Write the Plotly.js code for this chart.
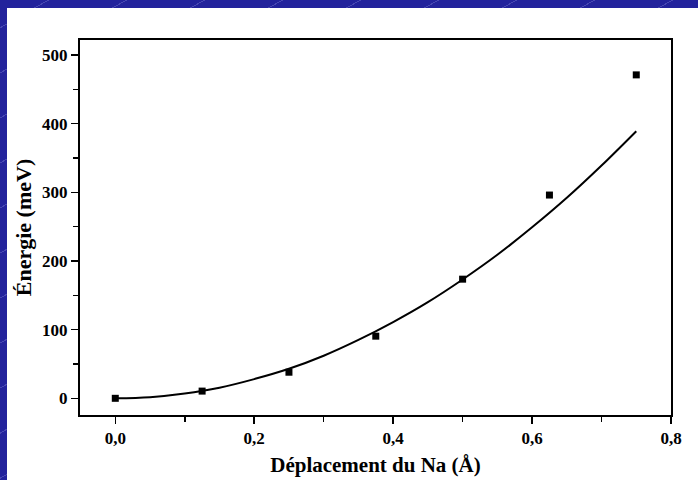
<!DOCTYPE html>
<html>
<head>
<meta charset="utf-8">
<script src="https://cdn.plot.ly/plotly-3.0.1.min.js"></script>
<style>
  html, body { margin: 0; padding: 0; width: 698px; height: 480px; overflow: hidden; }
  body {
    background-color: #23239c;
    background-image: repeating-linear-gradient(-30deg, transparent 0px, transparent 38px, rgba(140,140,220,0.35) 38px, rgba(140,140,220,0.35) 39px);
  }
  #chart { position: absolute; left: 7px; top: 8px; width: 691px; height: 472px; background: #fff; }
</style>
</head>
<body>
<div id="chart"></div>
<script>
// Measured data points
const displacement = [0, 0.125, 0.25, 0.375, 0.5, 0.625, 0.75];
const energy = [0, 10.5, 38, 90.5, 173.5, 296, 471];

// Fitted curve
const fitX = [0, 0.05, 0.1, 0.15, 0.2, 0.25, 0.3, 0.35, 0.4, 0.45, 0.5, 0.55, 0.6, 0.65, 0.7, 0.75];
const fitY = [0, 1.7, 7, 15.5, 28, 43, 62, 85, 111, 140, 173, 209, 249, 292, 339, 389];

const xTickVals = [0, 0.2, 0.4, 0.6, 0.8];
const xTickText = ['0,0', '0,2', '0,4', '0,6', '0,8'];
const yTickVals = [0, 100, 200, 300, 400, 500];

const fontFamily = '"Liberation Serif", "Times New Roman", serif';

const traces = [
  {
    x: fitX, y: fitY, type: 'scatter', mode: 'lines',
    line: { color: '#000', width: 2, shape: 'spline', smoothing: 1 },
    hoverinfo: 'skip'
  },
  {
    x: displacement, y: energy, type: 'scatter', mode: 'markers',
    marker: { symbol: 'square', size: 7, color: '#000' }
  }
];

const layout = {
  width: 691, height: 472,
  margin: { l: 73, r: 27, t: 32, b: 65 },
  paper_bgcolor: '#fff', plot_bgcolor: '#fff',
  showlegend: false,
  font: { family: fontFamily, color: '#000' },
  xaxis: {
    range: [-0.0508, 0.8], showgrid: false, zeroline: false,
    showline: true, linecolor: '#000', linewidth: 2, mirror: true,
    ticks: 'outside', ticklen: 7, tickwidth: 1.5, tickcolor: '#000',
    tickvals: xTickVals, ticktext: xTickText,
    minor: { tickvals: [0.1, 0.3, 0.5, 0.7], ticks: 'outside', ticklen: 5, tickwidth: 1.5, tickcolor: '#000', showgrid: false },
    tickfont: { size: 17, family: fontFamily, weight: 'bold' },
    title: { text: 'Déplacement du Na (Å)', font: { size: 21, family: fontFamily, weight: 'bold' }, standoff: 10 }
  },
  yaxis: {
    range: [-24.3, 521.8], showgrid: false, zeroline: false,
    showline: true, linecolor: '#000', linewidth: 2, mirror: true,
    ticks: 'outside', ticklen: 7, tickwidth: 1.5, tickcolor: '#000',
    tickvals: yTickVals,
    minor: { tickvals: [50, 150, 250, 350, 450], ticks: 'outside', ticklen: 5, tickwidth: 1.5, tickcolor: '#000', showgrid: false },
    tickfont: { size: 17, family: fontFamily, weight: 'bold' },
    title: { text: 'Énergie (meV)', font: { size: 22, family: fontFamily, weight: 'bold' }, standoff: 4 }
  }
};

Plotly.newPlot('chart', traces, layout, { displayModeBar: false, staticPlot: true });
</script>
</body>
</html>
